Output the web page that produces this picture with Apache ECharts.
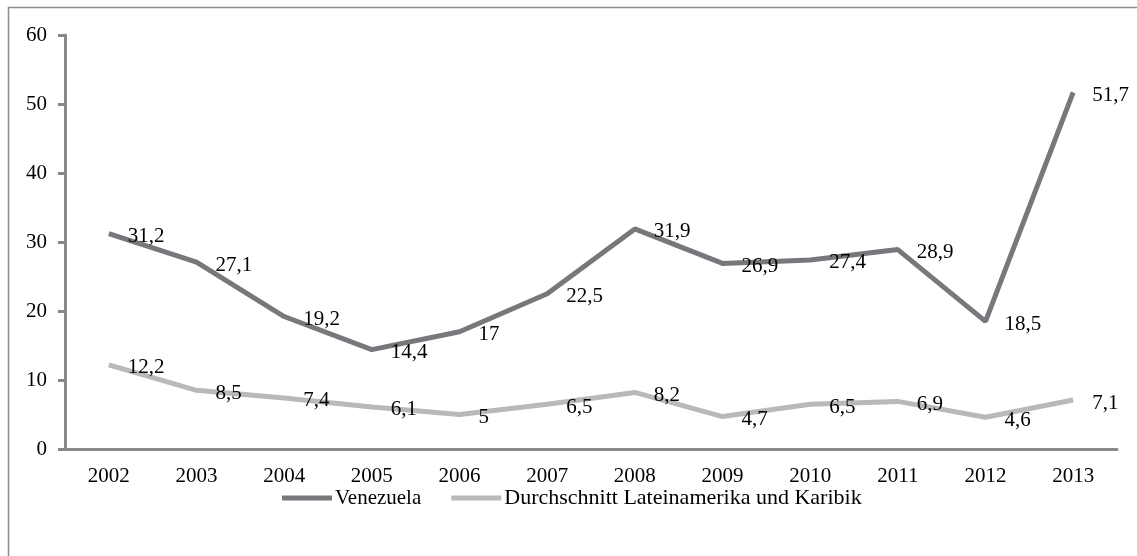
<!DOCTYPE html>
<html>
<head>
<meta charset="utf-8">
<script src="https://cdn.jsdelivr.net/npm/echarts@6/dist/echarts.min.js"></script>
<style>html,body{margin:0;padding:0;background:#fff}#c{width:1137px;height:556px}</style>
</head>
<body>
<div id="c"></div>
<script>
const years = ['2002','2003','2004','2005','2006','2007','2008','2009','2010','2011','2012','2013'];
const venezuela = [31.2, 27.1, 19.2, 14.4, 17, 22.5, 31.9, 26.9, 27.4, 28.9, 18.5, 51.7];
const latam = [12.2, 8.5, 7.4, 6.1, 5, 6.5, 8.2, 4.7, 6.5, 6.9, 4.6, 7.1];
const yTicks = [0, 10, 20, 30, 40, 50, 60];
const seriesNames = ['Venezuela', 'Durchschnitt Lateinamerika und Karibik'];

const FONT = "'Liberation Serif','Times New Roman',serif";
const chart = echarts.init(document.getElementById('c'), null, {renderer: 'canvas'});
const lbl = {
  show: true, position: 'right', distance: 19, offset: [0, 3],
  fontFamily: FONT, fontSize: 21, color: '#000',
  formatter: p => String(p.value).replace('.', ',')
};
chart.setOption({
  animation: false,
  backgroundColor: '#fff',
  graphic: [{
    type: 'rect', shape: {x: 8.5, y: 7.5, width: 1140, height: 560},
    style: {fill: 'none', stroke: '#8c8c8c', lineWidth: 1.5}, silent: true
  }],
  grid: {left: 65, right: 20, top: 35, bottom: 107, containLabel: false},
  legend: {
    left: 277, top: 482, icon: 'rect', itemWidth: 50, itemHeight: 5, itemGap: 30,
    formatter: name => (name === seriesNames[0] ? '{a|' : '{b|') + name + '}',
    textStyle: {fontFamily: FONT, fontSize: 21, color: '#000', padding: [0,0,0,-2],
      rich: {a: {fontFamily: FONT, fontSize: 21, color: '#000'},
             b: {fontFamily: FONT, fontSize: 22, color: '#000'}}},
    data: seriesNames
  },
  xAxis: {
    type: 'category', data: years, boundaryGap: true,
    axisLine: {lineStyle: {color: '#88888b', width: 3}},
    axisTick: {show: false},
    axisLabel: {fontFamily: FONT, fontSize: 21, color: '#000', margin: 17}
  },
  yAxis: {
    type: 'value', min: yTicks[0], max: yTicks[yTicks.length-1], interval: 10,
    axisLine: {show: true, lineStyle: {color: '#88888b', width: 3}},
    axisTick: {show: true, length: 7, lineStyle: {color: '#88888b', width: 3}},
    splitLine: {show: false},
    axisLabel: {fontFamily: FONT, fontSize: 21, color: '#000', margin: 18}
  },
  series: [
    {name: seriesNames[0], type: 'line', data: venezuela, symbol: 'circle', symbolSize: 0, showSymbol: true,
     lineStyle: {color: '#78787c', width: 5}, itemStyle: {color: '#78787c'}, label: lbl, z: 3},
    {name: seriesNames[1], type: 'line', data: latam, symbol: 'circle', symbolSize: 0, showSymbol: true,
     lineStyle: {color: '#b9b9bc', width: 5}, itemStyle: {color: '#b9b9bc'}, label: lbl, z: 2}
  ]
});
</script>
</body>
</html>
